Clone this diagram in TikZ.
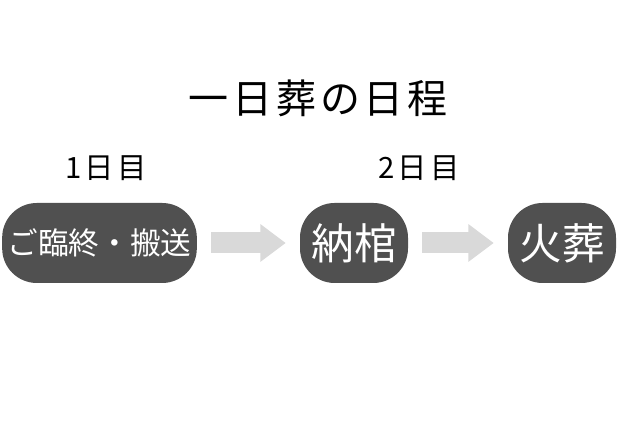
\documentclass[tikz,border=0pt]{standalone}
\usepackage{fontspec}
\usepackage{tikz}
\usetikzlibrary{arrows.meta}
\newfontfamily\jpfont{Noto Sans CJK JP}
\newfontfamily\jpspaced[LetterSpace=10]{Noto Sans CJK JP}
\definecolor{boxgray}{HTML}{505050}
\definecolor{arrowgray}{HTML}{D9D9D9}

\begin{document}
\begin{tikzpicture}[x=0.75pt,y=0.75pt,
	stage/.style={fill=boxgray,shape=rectangle,rounded corners=26pt,minimum height=60pt,inner sep=0pt,text=white},
	flow/.style={color=arrowgray,line width=15.75pt,-{Triangle[width=27pt,length=19pt]},shorten <=10.5pt,shorten >=10.5pt}]
	\fill[white] (0,0) rectangle (640,427);
	\useasboundingbox (0,0) rectangle (640,427);

	\node[font=\jpspaced\fontsize{30pt}{36pt}\selectfont] (title) at (318,329) {一日葬の日程};

	\node[font=\jpspaced\fontsize{22pt}{26pt}\selectfont] (day1) at (106,259) {1日目};
	\node[font=\jpspaced\fontsize{22pt}{26pt}\selectfont] (day2) at (419,259) {2日目};

	\node[stage,minimum width=146pt,font=\jpfont\fontsize{23pt}{28pt}\selectfont] (rinju) at (99.5,184) {ご臨終・搬送};
	\node[stage,minimum width=81pt,font=\jpfont\fontsize{32pt}{38pt}\selectfont] (nokan) at (354,184) {納棺};
	\node[stage,minimum width=81pt,font=\jpfont\fontsize{32pt}{38pt}\selectfont] (kaso) at (562,184) {火葬};

	\draw[flow] (rinju) -- (nokan);
	\draw[flow] (nokan) -- (kaso);
\end{tikzpicture}
\end{document}
